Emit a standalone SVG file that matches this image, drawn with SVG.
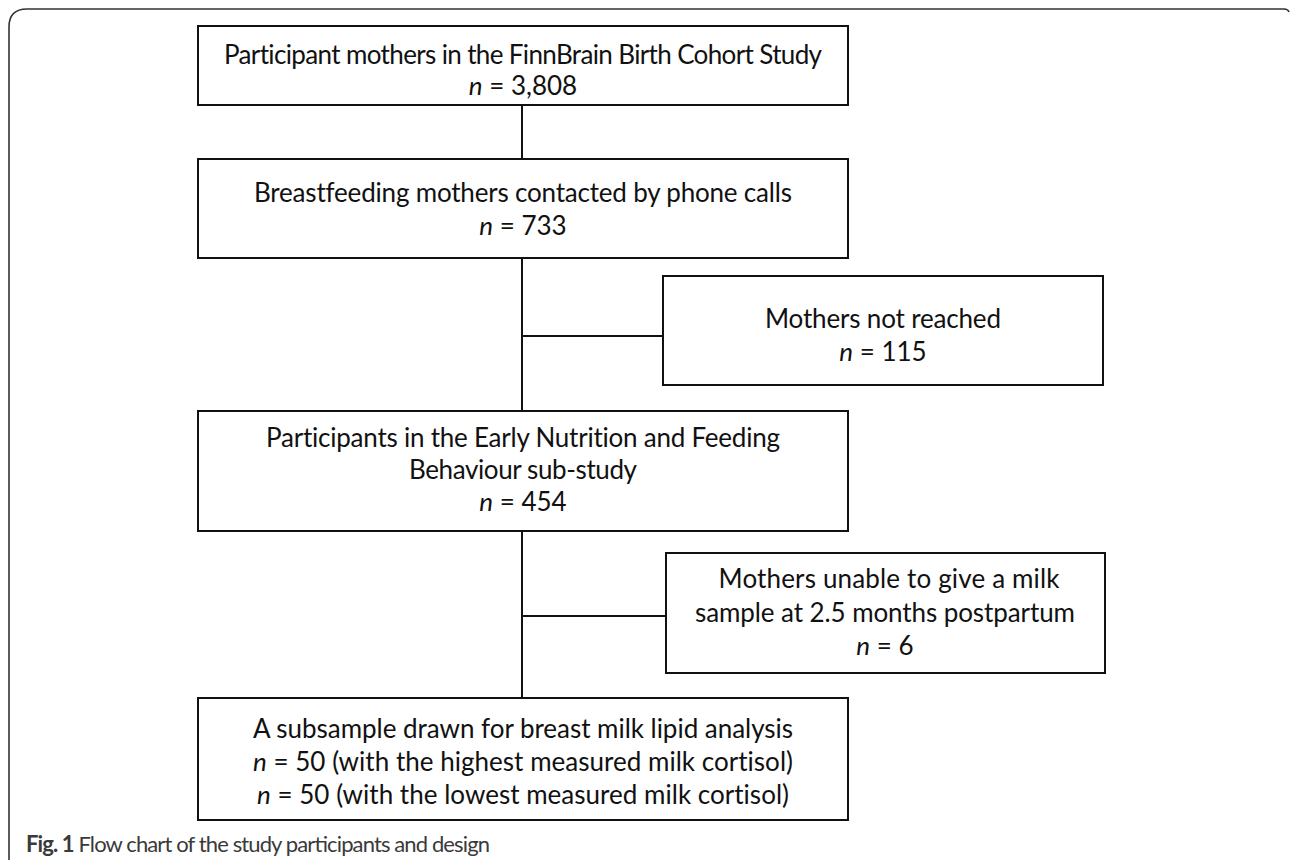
<svg xmlns="http://www.w3.org/2000/svg" width="1290" height="860" viewBox="0 0 1290 860">
<style>
.box{fill:#fff;stroke:#111;stroke-width:2}
.t{font-family:Lato,"Liberation Sans",Arial,sans-serif;font-size:26px;fill:#111;text-anchor:middle;font-variant-ligatures:none}
.i{font-style:italic}
.c{stroke:#111;stroke-width:2;fill:none}
.cap{font-family:Lato,"Liberation Sans",Arial,sans-serif;font-size:22px;fill:#3a3a3a}
</style>
<rect width="1290" height="860" fill="#fff"/>
<path d="M9,860 V27 Q9,9 27,9 H1284 Q1288,9 1289,12" fill="none" stroke="#333" stroke-width="1.6"/>
<g id="connectors">
<line class="c" x1="522" y1="105" x2="522" y2="159"/>
<line class="c" x1="522" y1="258" x2="522" y2="411"/>
<line class="c" x1="522" y1="336" x2="663" y2="336"/>
<line class="c" x1="522" y1="531" x2="522" y2="698"/>
<line class="c" x1="522" y1="616" x2="666" y2="616"/>
</g>
<g id="n1">
<rect class="box" x="198" y="26" width="650" height="79"/>
<text class="t" x="523" y="64" textLength="598" lengthAdjust="spacing">Participant mothers in the FinnBrain Birth Cohort Study</text>
<text class="t" x="523" y="95"><tspan class="i">n</tspan> = 3,808</text>
</g>
<g id="n2">
<rect class="box" x="198" y="159" width="650" height="99"/>
<text class="t" x="523" y="202" textLength="538" lengthAdjust="spacing">Breastfeeding mothers contacted by phone calls</text>
<text class="t" x="523" y="235"><tspan class="i">n</tspan> = 733</text>
</g>
<g id="n3">
<rect class="box" x="663" y="276" width="440" height="109"/>
<text class="t" x="883" y="328" textLength="236" lengthAdjust="spacing">Mothers not reached</text>
<text class="t" x="883" y="361"><tspan class="i">n</tspan> = 115</text>
</g>
<g id="n4">
<rect class="box" x="198" y="411" width="650" height="120"/>
<text class="t" x="523" y="447" textLength="514" lengthAdjust="spacing">Participants in the Early Nutrition and Feeding</text>
<text class="t" x="523" y="479" textLength="228" lengthAdjust="spacing">Behaviour sub-study</text>
<text class="t" x="523" y="511"><tspan class="i">n</tspan> = 454</text>
</g>
<g id="n5">
<rect class="box" x="666" y="553" width="439" height="120"/>
<text class="t" x="889" y="588" textLength="341" lengthAdjust="spacing">Mothers unable to give a milk</text>
<text class="t" x="885" y="622" textLength="380" lengthAdjust="spacing">sample at 2.5 months postpartum</text>
<text class="t" x="885" y="655"><tspan class="i">n</tspan> = 6</text>
</g>
<g id="n6">
<rect class="box" x="198" y="698" width="650" height="122"/>
<text class="t" x="523" y="738" textLength="540" lengthAdjust="spacing">A subsample drawn for breast milk lipid analysis</text>
<text class="t" x="523" y="771" textLength="540" lengthAdjust="spacing"><tspan class="i">n</tspan> = 50 (with the highest measured milk cortisol)</text>
<text class="t" x="523" y="804" textLength="532" lengthAdjust="spacing"><tspan class="i">n</tspan> = 50 (with the lowest measured milk cortisol)</text>
</g>
<text class="cap" x="26" y="852" textLength="464" lengthAdjust="spacing"><tspan font-weight="bold">Fig. 1</tspan> Flow chart of the study participants and design</text>
</svg>
